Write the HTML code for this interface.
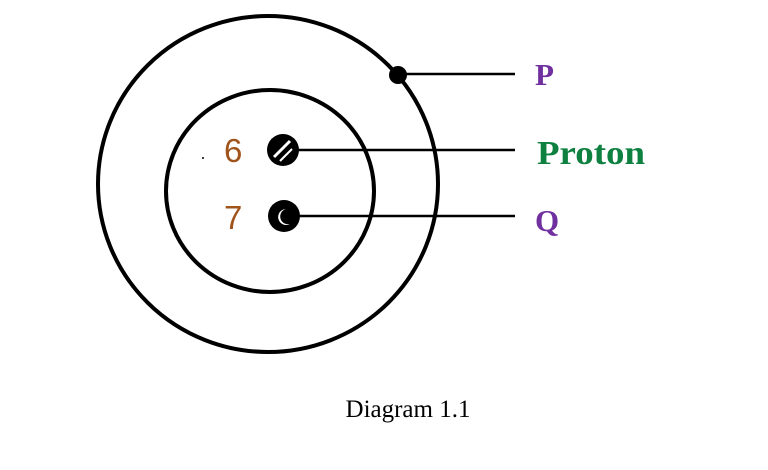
<!DOCTYPE html>
<html><head><style>body{margin:0;background:#fff}svg{display:block}</style></head><body>
<svg width="768" height="470" viewBox="0 0 768 470" xmlns="http://www.w3.org/2000/svg">
<ellipse cx="268" cy="184" rx="170" ry="168" fill="none" stroke="#000" stroke-width="4"/>
<ellipse cx="270" cy="191" rx="104" ry="101" fill="none" stroke="#000" stroke-width="4"/>
<circle cx="398" cy="75" r="9" fill="#000"/>
<line x1="398" y1="74" x2="515" y2="74" stroke="#000" stroke-width="2.5"/>
<line x1="290" y1="150" x2="515" y2="150" stroke="#000" stroke-width="2.5"/>
<line x1="290" y1="216" x2="515" y2="216" stroke="#000" stroke-width="2.5"/>
<circle cx="283" cy="150" r="16" fill="#000"/>
<line x1="274" y1="157" x2="290" y2="141" stroke="#fff" stroke-width="3"/>
<line x1="280" y1="161" x2="292" y2="149" stroke="#fff" stroke-width="2"/>
<circle cx="284" cy="216" r="16" fill="#000"/>
<path d="M286 209 A8 8 0 1 0 290 224 A6 6 0 1 1 286 209Z" fill="#fff"/>
<circle cx="203" cy="158" r="1" fill="#000"/>
<text x="224" y="162" font-family="Liberation Sans,sans-serif" font-size="33" fill="#a0541c">6</text>
<text x="224" y="229" font-family="Liberation Sans,sans-serif" font-size="33" fill="#a0541c">7</text>
<text x="535" y="85" font-family="Liberation Serif,serif" font-weight="bold" font-size="31" fill="#7030a0">P</text>
<text x="537" y="164" font-family="Liberation Serif,serif" font-weight="bold" font-size="34" textLength="108" lengthAdjust="spacingAndGlyphs" fill="#0e8040">Proton</text>
<text x="535" y="231" font-family="Liberation Serif,serif" font-weight="bold" font-size="31" fill="#7030a0">Q</text>
<text x="408" y="417" text-anchor="middle" font-family="Liberation Serif,serif" font-size="25" fill="#000">Diagram 1.1</text>
</svg>
</body></html>
